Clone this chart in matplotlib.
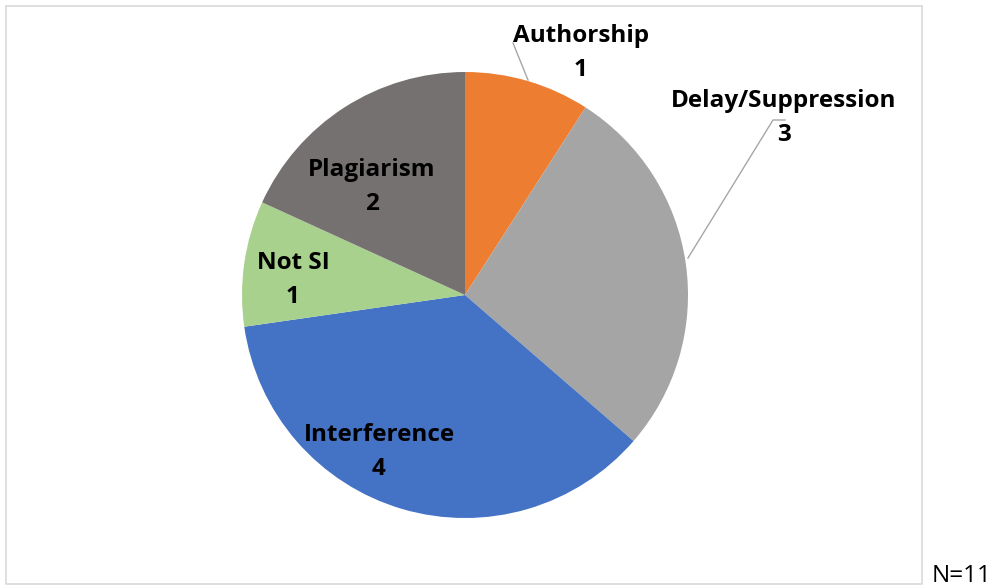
import matplotlib.pyplot as plt
from matplotlib.patches import Rectangle

categories = ["Authorship", "Delay/Suppression", "Interference", "Not SI", "Plagiarism"]
counts = [1, 3, 4, 1, 2]
colors = ["#ED7D31", "#A5A5A5", "#4472C4", "#A9D18E", "#767171"]
note = "N=11"

# label centers in pixel space (x, y from top)
label_pos = [(581, 53), (784, 118), (379, 452), (293, 280), (372, 187)]

plt.rcParams["font.family"] = ["Open Sans", "DejaVu Sans"]

W, H = 1000, 588
fig = plt.figure(figsize=(W / 100, H / 100), dpi=100)
ax = fig.add_axes([0, 0, 1, 1])

cx, cy, r = 465, H - 295, 223
ax.pie(counts, colors=colors, startangle=90, counterclock=False,
       center=(cx, cy), radius=r, frame=True,
       wedgeprops=dict(linewidth=0))
ax.set_xlim(0, W)
ax.set_ylim(0, H)
ax.set_aspect("auto")
ax.axis("off")

# chart border
ax.add_patch(Rectangle((6, H - 584), 916, 578, fill=False,
                       edgecolor="#D9D9D9", linewidth=1.2))

for name, n, (lx, ly) in zip(categories, counts, label_pos):
    ax.text(lx, H - ly, f"{name}\n{n}", ha="center", va="center",
            fontsize=17.5, fontweight="bold", color="black", linespacing=1.55)

# leader lines
ax.plot([513, 528], [H - 43, H - 80], color="#A6A6A6", linewidth=1)
ax.plot([785, 773, 688], [H - 120, H - 120, H - 258], color="#A6A6A6", linewidth=1)

ax.text(932, H - 576, note, ha="left", va="center", fontsize=17.5, color="black")

fig.savefig("out.png", dpi=100)
